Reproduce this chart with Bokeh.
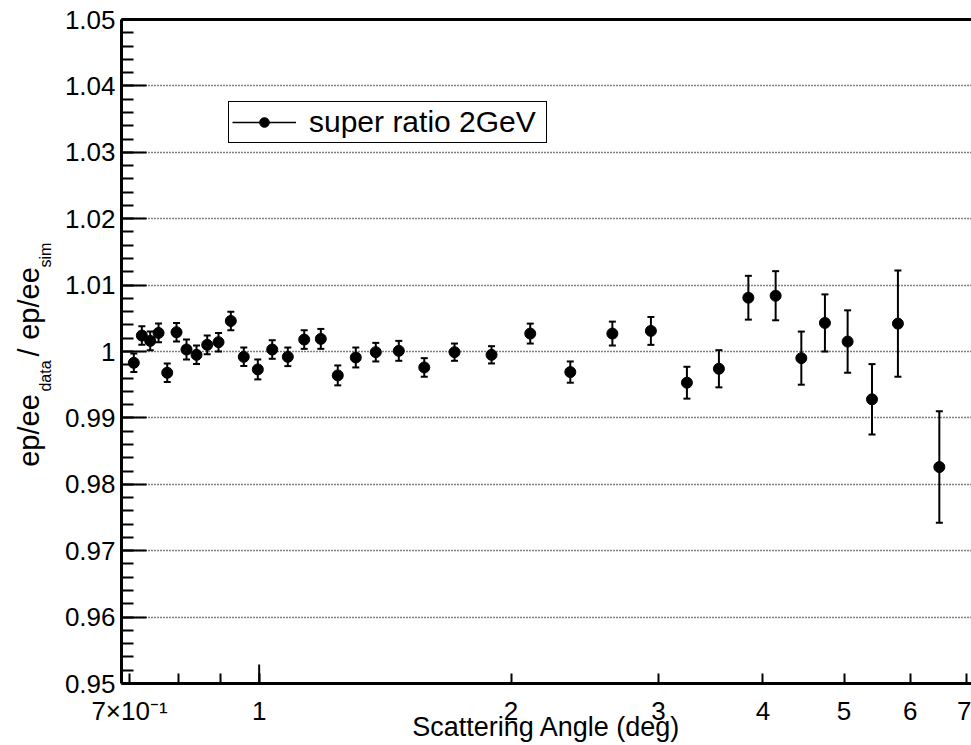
import numpy as np
from bokeh.plotting import figure
from bokeh.layouts import row
from bokeh.models import (ColumnDataSource, Range1d, LogAxis, FixedTicker,
                          CustomJSTickFormatter, Whisker, TeeHead, Legend,
                          LegendItem)
from bokeh.core.properties import value
from bokeh.embed import file_html
from bokeh.resources import INLINE

# ---------------- data ----------------
angle_deg = [0.7083, 0.7241, 0.7410, 0.7582, 0.7765, 0.7966, 0.8188, 0.8417,
             0.8668, 0.8942, 0.9250, 0.9586, 0.9963, 1.0366, 1.0821, 1.1320,
             1.1849, 1.2415, 1.3046, 1.3784, 1.4685, 1.5751, 1.7119, 1.8954,
             2.1084, 2.3541, 2.6429, 2.9386, 3.2447, 3.5433, 3.8424, 4.1419,
             4.4453, 4.7436, 5.0492, 5.3995, 5.7987, 6.4985]
super_ratio = [0.9983, 1.0024, 1.0016, 1.0028, 0.9968, 1.0029, 1.0003, 0.9995,
               1.0010, 1.0014, 1.0046, 0.9992, 0.9973, 1.0003, 0.9992, 1.0018,
               1.0019, 0.9964, 0.9991, 0.9999, 1.0001, 0.9976, 0.9999, 0.9995,
               1.0027, 0.9969, 1.0027, 1.0031, 0.9953, 0.9974, 1.0081, 1.0084,
               0.9990, 1.0043, 1.0015, 0.9928, 1.0042, 0.9826]
ratio_err = [0.0014, 0.0014, 0.0014, 0.0014, 0.0014, 0.0014, 0.0015, 0.0014,
             0.0014, 0.0014, 0.0014, 0.0014, 0.0015, 0.0014, 0.0014, 0.0014,
             0.0015, 0.0015, 0.0015, 0.0014, 0.0015, 0.0014, 0.0013, 0.0013,
             0.0015, 0.0016, 0.0018, 0.0021, 0.0024, 0.0028, 0.0033, 0.0037,
             0.0040, 0.0043, 0.0047, 0.0053, 0.0080, 0.0084]

y_ticks = [0.95, 0.96, 0.97, 0.98, 0.99, 1.00, 1.01, 1.02, 1.03, 1.04, 1.05]
x_ticks = [0.7, 1, 2, 3, 4, 5, 6, 7]
x_minor_ticks = [0.8, 0.9]
x_first_label = "7×10⁻¹"
legend_label = "super ratio 2GeV"
x_title = "Scattering Angle (deg)"
y_title_main = ["ep/ee", "/", "ep/ee"]
y_title_sub = ["data", "sim"]

FONT = "Liberation Sans"

x_lo, x_hi = 0.6847, 7.10
y_lo, y_hi = 0.95, 1.05

# page geometry (pixels)
W, H = 971, 745
LW = 60                      # width of the strip holding the y title
FL, FT, FB = 121, 19, 683    # frame left / top / bottom in the page
FW, FH = W - FL, FB - FT


def px2x(px):
    return x_lo * 10 ** ((px - FL) / FW * np.log10(x_hi / x_lo))


def py2y(py):
    return y_hi - (py - FT) / FH * (y_hi - y_lo)


# ---------------- y title strip (text with subscripts) ----------------
# same vertical frame as the main plot, so the title pieces sit at page rows
lab = figure(width=LW, height=H, x_range=Range1d(0, LW), y_range=Range1d(y_lo, y_hi),
             min_border_left=0, min_border_right=0,
             min_border_top=FT, min_border_bottom=H - FB,
             toolbar_location=None, output_backend="svg",
             x_axis_location=None, y_axis_location=None, title=None)
lab.outline_line_color = None
lab.grid.visible = False
lab.background_fill_color = "white"
lab.border_fill_color = "white"
# centres of the rotated pieces, in page pixels
main_cx, main_cy = [28.5, 28.5, 28.5], [430, 352, 303]
sub_cx, sub_cy = [44.5, 44.5], [375.5, 254.5]
lab.text(x=main_cx, y=[py2y(v) for v in main_cy], text=y_title_main,
         angle=np.pi / 2, text_font=value(FONT), text_font_size="29px",
         text_align="center", text_baseline="middle", text_color="black")
lab.text(x=sub_cx, y=[py2y(v) for v in sub_cy], text=y_title_sub,
         angle=np.pi / 2, text_font=value(FONT), text_font_size="16px",
         text_align="center", text_baseline="middle", text_color="black")

# ---------------- main plot ----------------
src = ColumnDataSource(dict(
    x=angle_deg,
    y=super_ratio,
    lower=[v - e for v, e in zip(super_ratio, ratio_err)],
    upper=[v + e for v, e in zip(super_ratio, ratio_err)],
))

p = figure(width=W - LW, height=H, x_axis_type="log",
           x_range=Range1d(x_lo, x_hi), y_range=Range1d(y_lo, y_hi),
           output_backend="svg", toolbar_location=None,
           min_border_left=FL - LW, min_border_right=0,
           min_border_top=FT, min_border_bottom=H - FB)
p.outline_line_color = None
p.background_fill_color = "white"
p.border_fill_color = "white"

# ---- y axis ----
y_minor = [round(y_lo + i * 0.002, 3) for i in range(51)]
yticker = FixedTicker(ticks=y_ticks, minor_ticks=y_minor)
ya = p.yaxis[0]
ya.ticker = yticker
ya.formatter = CustomJSTickFormatter(code="return String(Math.round(tick*100)/100);")
ya.axis_line_width = 3
ya.axis_line_color = "black"
ya.major_tick_in = 25
ya.major_tick_out = 0
ya.minor_tick_in = 12
ya.minor_tick_out = 0
ya.major_tick_line_width = 2
ya.minor_tick_line_width = 2
ya.major_tick_line_color = "black"
ya.minor_tick_line_color = "black"
ya.major_label_text_font = FONT
ya.major_label_text_font_size = "26px"
ya.major_label_text_color = "black"
ya.major_label_standoff = 6

p.ygrid[0].ticker = yticker
p.ygrid[0].grid_line_color = "black"
p.ygrid[0].grid_line_alpha = 1.0
p.ygrid[0].grid_line_dash = "1 2"
p.ygrid[0].grid_line_width = 1.3
p.xgrid[0].visible = False

# ---- x axis ----
xticker = FixedTicker(ticks=x_ticks, minor_ticks=x_minor_ticks)
xa = p.xaxis[0]
xa.ticker = xticker
xa.formatter = CustomJSTickFormatter(
    args=dict(first=x_first_label),
    code="if (Math.abs(tick - 0.7) < 1e-6) { return first; } return String(Math.round(tick));")
xa.axis_line_width = 3
xa.axis_line_color = "black"
xa.major_tick_in = 10
xa.major_tick_out = 0
xa.minor_tick_in = 10
xa.minor_tick_out = 0
xa.major_tick_line_width = 2
xa.minor_tick_line_width = 2
xa.major_tick_line_color = "black"
xa.minor_tick_line_color = "black"
xa.major_label_text_font = FONT
xa.major_label_text_font_size = "26px"
xa.major_label_text_color = "black"
xa.major_label_standoff = 12
xa.axis_label = x_title
xa.axis_label_text_font = FONT
xa.axis_label_text_font_size = "27px"
xa.axis_label_text_font_style = "normal"
xa.axis_label_text_color = "black"
xa.axis_label_standoff = -17

# top border of the frame
top = LogAxis(ticker=FixedTicker(ticks=[]), axis_line_width=3, axis_line_color="black",
              major_tick_line_color=None, minor_tick_line_color=None,
              major_label_text_font_size="0px")
p.add_layout(top, "above")

# longer tick at 1 (ROOT's decade tick)
p.segment(x0=[1], y0=[y_lo], x1=[1], y1=[y_lo + (y_hi - y_lo) * 19 / FH],
          line_color="black", line_width=2)

# ---- data ----
whisk = Whisker(base="x", lower="lower", upper="upper", source=src,
                line_color="black", line_width=2, level="underlay",
                upper_head=TeeHead(size=7, line_width=2, line_color="black"),
                lower_head=TeeHead(size=7, line_width=2, line_color="black"))
p.add_layout(whisk)
pts = p.scatter("x", "y", source=src, marker="circle", size=11,
                fill_color="black", line_color="black")

# ---- legend (line + marker; the error bar symbol is added on top) ----
line_dummy = p.line(x=angle_deg[:1], y=super_ratio[:1], line_color="black", line_width=1.5)
LEG_L, LEG_B, LEG_PAD, LEG_GW = 228, 143, 3, 64
legend = Legend(items=[LegendItem(label=legend_label, renderers=[line_dummy, pts])],
                location=(LEG_L - FL, FB - LEG_B), margin=0, padding=LEG_PAD,
                glyph_width=LEG_GW, glyph_height=24, label_standoff=13,
                label_width=234, spacing=0,
                label_text_font=FONT, label_text_font_size="30px",
                label_text_color="black",
                border_line_color="black", border_line_width=1, border_line_alpha=1.0,
                background_fill_color="white", background_fill_alpha=1.0)
p.add_layout(legend)

# vertical error-bar symbol of the legend entry
leg_cx = LEG_L + LEG_PAD + LEG_GW / 2
leg_src = ColumnDataSource(dict(x=[px2x(leg_cx)], lo=[py2y(134)], hi=[py2y(111)]))
leg_err = Whisker(base="x", lower="lo", upper="hi", source=leg_src, level="overlay",
                  line_color="black", line_width=2,
                  upper_head=TeeHead(size=7, line_width=2, line_color="black"),
                  lower_head=TeeHead(size=7, line_width=2, line_color="black"))
p.add_layout(leg_err)

layout = row(lab, p, spacing=0)

with open("out.html", "w", encoding="utf-8") as f:
    f.write(file_html(layout, INLINE))
